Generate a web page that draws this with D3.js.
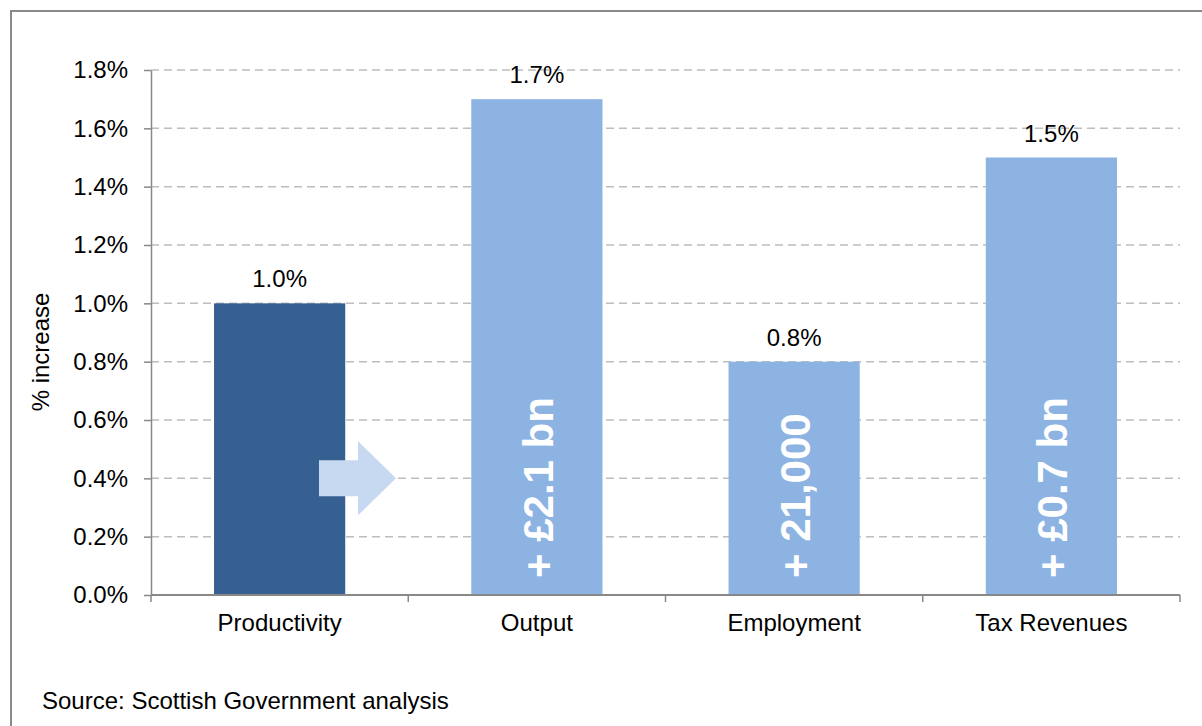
<!DOCTYPE html>
<html>
<head>
<meta charset="utf-8">
<script src="https://cdn.jsdelivr.net/npm/d3@7"></script>
<style>
  html, body { margin: 0; padding: 0; background: #fff; }
  svg { display: block; }
  text { font-family: "Liberation Sans", Arial, sans-serif; }
</style>
</head>
<body>
<svg id="chart" width="1202" height="726"></svg>
<script>
// Chart data
const categories = ["Productivity", "Output", "Employment", "Tax Revenues"];
const values = [0.010, 0.017, 0.008, 0.015];
const valueLabels = ["1.0%", "1.7%", "0.8%", "1.5%"];
const impactLabels = ["", "+ £2.1 bn", "+ 21,000", "+ £0.7 bn"];
const yTicks = [0, 0.002, 0.004, 0.006, 0.008, 0.010, 0.012, 0.014, 0.016, 0.018];
const arrowLevel = 0.004;

const svg = d3.select("#chart");
const plotLeft = 151, plotRight = 1180, plotTop = 70, plotBottom = 595;

const x = d3.scaleBand().domain(categories).range([plotLeft, plotRight]).paddingInner(0.49).paddingOuter(0.245);
const xOuter = d3.scaleBand().domain(categories).range([plotLeft, plotRight]).padding(0);
const y = d3.scaleLinear().domain([0, 0.018]).range([plotBottom, plotTop]);

// Outer frame (open to the right and bottom)
svg.append("path")
  .attr("d", "M11,740 L11,11 L1220,11")
  .attr("fill", "none")
  .attr("stroke", "#898989")
  .attr("stroke-width", 2);

// Dashed gridlines
svg.append("g")
  .selectAll("line")
  .data(yTicks.filter(d => d > 0))
  .join("line")
  .attr("x1", plotLeft).attr("x2", plotRight)
  .attr("y1", d => y(d)).attr("y2", d => y(d))
  .attr("stroke", "#bdbdbd")
  .attr("stroke-width", 1.5)
  .attr("stroke-dasharray", "8,5");

// Y axis
const yAxis = d3.axisLeft(y)
  .tickValues(yTicks)
  .tickFormat(d3.format(".1%"))
  .tickSizeInner(7)
  .tickSizeOuter(0)
  .tickPadding(16);
const gy = svg.append("g").attr("transform", `translate(${plotLeft},0)`).call(yAxis);
gy.select(".domain").attr("stroke", "#888").attr("stroke-width", 1.5);
gy.selectAll(".tick line").attr("stroke", "#888").attr("stroke-width", 1.5);
gy.selectAll(".tick text")
  .attr("fill", "#000")
  .style("font-size", "24px")
  .style("font-family", "'Liberation Sans', Arial, sans-serif");

// Bars
svg.append("g")
  .selectAll("rect")
  .data(categories)
  .join("rect")
  .attr("x", d => x(d))
  .attr("width", x.bandwidth())
  .attr("y", (d, i) => y(values[i]))
  .attr("height", (d, i) => y(0) - y(values[i]))
  .attr("fill", (d, i) => i === 0 ? "#376092" : "#8db3e2");

// X axis with boundary ticks
svg.append("line")
  .attr("x1", plotLeft).attr("x2", plotRight)
  .attr("y1", y(0)).attr("y2", y(0))
  .attr("stroke", "#888").attr("stroke-width", 2);
const boundaries = categories.map(c => xOuter(c)).concat([plotRight]);
svg.append("g")
  .selectAll("line")
  .data(boundaries)
  .join("line")
  .attr("x1", d => d).attr("x2", d => d)
  .attr("y1", y(0)).attr("y2", y(0) + 7)
  .attr("stroke", "#888").attr("stroke-width", 1.5);

// Category labels
svg.append("g")
  .selectAll("text")
  .data(categories)
  .join("text")
  .attr("x", d => x(d) + x.bandwidth() / 2)
  .attr("y", 631)
  .attr("text-anchor", "middle")
  .style("font-size", "24px")
  .attr("fill", "#000")
  .text(d => d);

// Value labels above bars
svg.append("g")
  .selectAll("text")
  .data(categories)
  .join("text")
  .attr("x", d => x(d) + x.bandwidth() / 2)
  .attr("y", (d, i) => y(values[i]) - 16)
  .attr("text-anchor", "middle")
  .style("font-size", "24px")
  .attr("fill", "#000")
  .text((d, i) => valueLabels[i]);

// Rotated impact labels inside bars
svg.append("g")
  .selectAll("text")
  .data(categories.filter((d, i) => impactLabels[i]))
  .join("text")
  .attr("transform", d => `translate(${x(d) + x.bandwidth() / 2 + 16},${y(0) - 17}) rotate(-90)`)
  .attr("text-anchor", "start")
  .style("font-size", "42px")
  .style("font-weight", "bold")
  .attr("fill", "#fff")
  .text(d => impactLabels[categories.indexOf(d)]);

// Arrow from Productivity towards Output
const ay = y(arrowLevel);
const ax0 = 319, ax1 = 358, ax2 = 396;
svg.append("path")
  .attr("d", `M${ax0},${ay - 18} L${ax1},${ay - 18} L${ax1},${ay - 37} L${ax2},${ay} L${ax1},${ay + 37} L${ax1},${ay + 18} L${ax0},${ay + 18} Z`)
  .attr("fill", "#c6d9f1");

// Y axis title
svg.append("text")
  .attr("transform", `translate(49,352) rotate(-90)`)
  .attr("text-anchor", "middle")
  .style("font-size", "24px")
  .attr("fill", "#000")
  .text("% increase");

// Source note
svg.append("text")
  .attr("x", 42)
  .attr("y", 709)
  .style("font-size", "24px")
  .attr("fill", "#000")
  .text("Source: Scottish Government analysis");
</script>
</body>
</html>
